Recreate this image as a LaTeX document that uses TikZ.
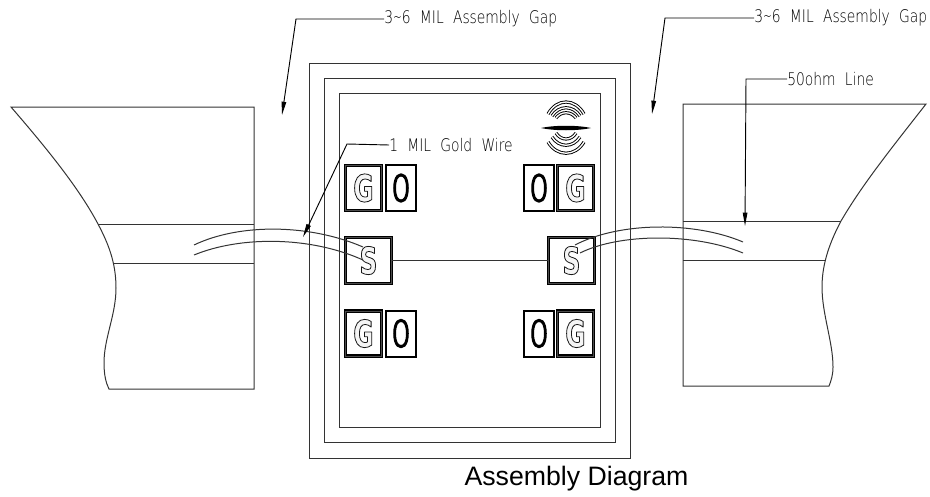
\documentclass[tikz,border=0pt]{standalone}
\usepackage{fontspec}
\usetikzlibrary{arrows.meta}
\setmainfont{Liberation Sans}
\newfontfamily\cadfont[FakeStretch=0.8]{DejaVu Sans ExtraLight}
\newfontfamily\padfont[FakeStretch=0.66]{DejaVu Sans Bold}
\newfontfamily\holefont[FakeStretch=0.64]{Fira Sans Light}
\newcommand{\strk}[4]{\special{pdf:code q #1 w 1 J 1 j #2 #2 #2 RG #3 #3 #3 rg 2 Tr}#4\special{pdf:code Q}}
\newcommand{\triple}[1]{\padfont\fontsize{28}{28}\selectfont\strk{0.6}{0.1}{0.96}{#1}}
\tikzset{
 x=0.75pt,y=-0.75pt,
 line/.style={line width=0.75pt,black!80},
 lead/.style={line width=0.7pt,-{Stealth[length=10pt,width=3.4pt,inset=0pt]}},
 cadlabel/.style={inner sep=0pt,font=\cadfont\fontsize{13}{13}\selectfont,anchor=west},
 gpad/.style={draw,line width=1.1pt,double=black!70,double distance=0.3pt,inner sep=0pt,minimum width=27pt,minimum height=33.75pt,fill=white},
 opad/.style={draw,line width=1.5pt,inner sep=0pt,minimum width=22.5pt,minimum height=34.5pt,fill=white,font=\holefont\fontsize{30}{30}\selectfont},
 spad/.style={draw,line width=1.1pt,double=black!70,double distance=0.3pt,inner sep=0pt,minimum width=34.5pt,minimum height=34.5pt,fill=white},
 band/.style={line width=0.7pt,double=white,double distance=1pt},
}
\begin{document}
\begin{tikzpicture}
\useasboundingbox (0,0) rectangle (930,496);
% blocks
\draw[line] (254,107) -- (11,107) .. controls (50,152) and (80,190) .. (98,224) .. controls (108,243) and (116,262) .. (116,288) .. controls (116,315) and (104,338) .. (104,363) .. controls (104,375) and (106,383) .. (109,389) -- (254,389) -- cycle;
\draw[line] (98,224) -- (254,224) (114,263) -- (254,263);
\draw[line] (683,386) -- (683,104) -- (926,104) .. controls (890,150) and (862,185) .. (841,221) .. controls (831,240) and (822,262) .. (822,287) .. controls (822,314) and (833,342) .. (833,367) .. controls (833,375) and (831,381) .. (829,386) -- cycle;
\draw[line] (683,221) -- (841,221) (683,260) -- (825,260);
% frames
\draw[line] (309,63) rectangle (630,458);
\draw[line] (324,78) rectangle (615,442.5);
\draw[line] (339,93) rectangle (600,427.5);
% pads
\node[opad] (o1) at (401,188) {\strk{0.9}{0}{0}{O}};
\node[gpad] (g1) at (363.5,188) {\triple{G}};
\node[opad] (o2) at (539,188) {\strk{0.9}{0}{0}{O}};
\node[gpad] (g2) at (575.5,188) {\triple{G}};
\node[opad] (o3) at (401,333.5) {\strk{0.9}{0}{0}{O}};
\node[gpad] (g3) at (363.5,333.5) {\triple{G}};
\node[opad] (o4) at (539,333.5) {\strk{0.9}{0}{0}{O}};
\node[gpad] (g4) at (575.5,333.5) {\triple{G}};
\node[spad] (s1) at (368.5,260.5) {\triple{S}};
\node[spad] (s2) at (571.5,260.5) {\triple{S}};
\draw[line] (s1.east) -- (s2.west);
% wires
\draw[line] (194,245) .. controls (240,223) and (310,224) .. (363,247);
\draw[line] (194,255) .. controls (240,236) and (310,236) .. (363,260);
\draw[line] (743,242) .. controls (695,221.5) and (620,221.5) .. (575,245);
\draw[line] (743,253) .. controls (695,233) and (620,233) .. (580,253);
% leaders
\node[cadlabel] (lab1) at (384,19) {3\char"223C{}6\hspace{0.28em} MIL\hspace{0.28em} Assembly\hspace{0.28em} Gap};
\node[cadlabel] (lab2) at (754,18) {3\char"223C{}6\hspace{0.28em} MIL\hspace{0.28em} Assembly\hspace{0.28em} Gap};
\node[cadlabel] (lab3) at (787,79) {50ohm\hspace{0.28em} Line};
\node[cadlabel] (lab4) at (389,145) {1\hspace{0.28em} MIL\hspace{0.28em} Gold\hspace{0.28em} Wire};
\coordinate (b1) at (296,19); \coordinate (t1) at (282,115);
\coordinate (b2) at (665,18); \coordinate (t2) at (652,114);
\coordinate (b3) at (746,79); \coordinate (t3) at (745,226);
\coordinate (b4) at (347,144); \coordinate (t4) at (303,237);
\draw[lead] (lab1.west) -- (b1) -- (t1);
\draw[lead] (lab2.west) -- (b2) -- (t2);
\draw[lead] (lab3.west) -- (b3) -- (t3);
\draw[lead] (lab4.west) -- (b4) -- (t4);
% icon
\fill[black] (541,128) .. controls (555,125) and (577,125) .. (591,128) .. controls (577,131) and (555,131) .. (541,128) -- cycle;
\foreach \ye/\yc/\w in {114/98/18,116/105/14,118/111/10}{
 \draw[band] (566-\w,\ye) .. controls (566-\w*0.5,\yc) and (566+\w*0.5,\yc) .. (566+\w,\ye);
}
\foreach \ye/\yc/\w in {133/141/10,137/148/14,142/157/18}{
 \draw[band] (566-\w,\ye) .. controls (566-\w*0.5,\yc) and (566+\w*0.5,\yc) .. (566+\w,\ye);
}
\node[inner sep=0pt,font=\fontsize{20}{20}\selectfont] (title) at (576.5,479) {Assembly Diagram};
\end{tikzpicture}
\end{document}
